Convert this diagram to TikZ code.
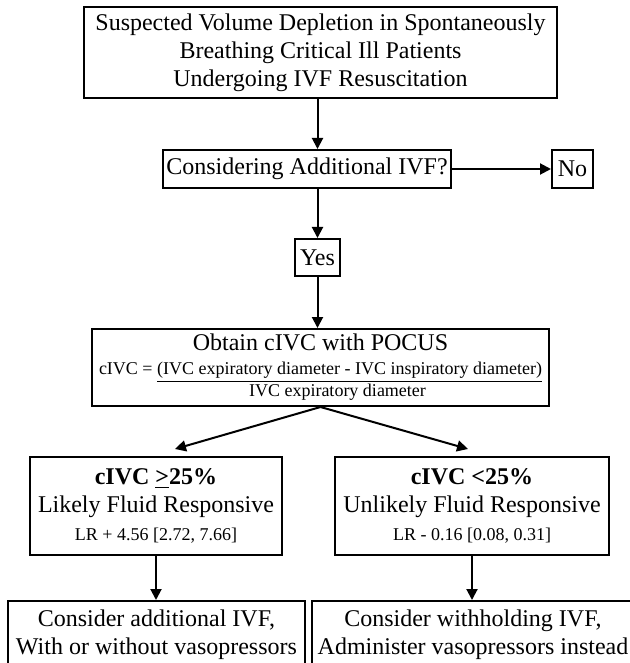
\documentclass[tikz,border=0pt]{standalone}
\usepackage{fontspec}
\setmainfont{Liberation Serif}
\usetikzlibrary{arrows.meta}
\usetikzlibrary{positioning}

\begin{document}
\begin{tikzpicture}[x=0.5pt, y=-0.5pt,
    kasten/.style={draw, line width=1pt, align=center, inner sep=0pt, font=\large},
    pfeil/.style={-{Triangle[length=5.5pt, width=5.5pt]}, line width=1pt}]

    % Rahmen
    \useasboundingbox (0,0) rectangle (629,663);

    % Kaesten
    \node[kasten, minimum width=236.5pt, minimum height=45.5pt] (start) at (320.5,52.5)
        {Suspected Volume Depletion in Spontaneously\\ Breathing Critical Ill Patients\\ Undergoing IVF Resuscitation};
    \node[kasten, minimum width=144pt, minimum height=19pt] (frage) at (307,169) {Considering Additional IVF?};
    \node[kasten, minimum width=20.5pt, minimum height=19pt] (nein) at (572.5,169) {No};
    \node[kasten, minimum width=22.5pt, minimum height=18.5pt] (ja) at (317.5,257.5) {Yes};
    \node[kasten, minimum width=228.5pt, minimum height=38.5pt] (messung) at (320.5,367.5)
        {Obtain cIVC with POCUS\\[-2pt]
         {\small cIVC = \underline{(IVC expiratory diameter - IVC inspiratory diameter)}}\\[-3pt]
         {\small\hspace*{17pt}IVC expiratory diameter}};
    \node[kasten, minimum width=126pt, minimum height=49pt] (links) at (156,506)
        {\textbf{cIVC \underline{>}25\%}\\ Likely Fluid Responsive\\ {\small LR + 4.56 [2.72, 7.66]}};
    \node[kasten, minimum width=137pt, minimum height=49pt] (rechts) at (472,506)
        {\textbf{cIVC <25\%}\\ Unlikely Fluid Responsive\\ {\small LR - 0.16 [0.08, 0.31]}};
    \node[kasten, minimum width=148.5pt, minimum height=34pt] (untenlinks) at (156.5,635)
        {Consider additional IVF,\\ With or without vasopressors};
    \node[kasten, minimum width=161pt, minimum height=34pt] (untenrechts) at (473,635)
        {Consider withholding IVF,\\ Administer vasopressors instead};

    % Pfeilspitzen der Verzweigung
    \coordinate (zielL) at (175,449);
    \coordinate (zielR) at (468,449);

    % Pfeile
    \draw[pfeil] (start.south -| ja) -- (ja |- frage.north);
    \draw[pfeil] (frage.east) -- (nein.west);
    \draw[pfeil] (frage.south -| ja) -- (ja.north);
    \draw[pfeil] (ja.south) -- (ja |- messung.north);
    \draw[pfeil] (messung.south) -- (zielL);
    \draw[pfeil] (messung.south) -- (zielR);
    \draw[pfeil] (links.south) -- (links.south |- untenlinks.north);
    \draw[pfeil] (rechts.south) -- (rechts.south |- untenrechts.north);

\end{tikzpicture}
\end{document}
